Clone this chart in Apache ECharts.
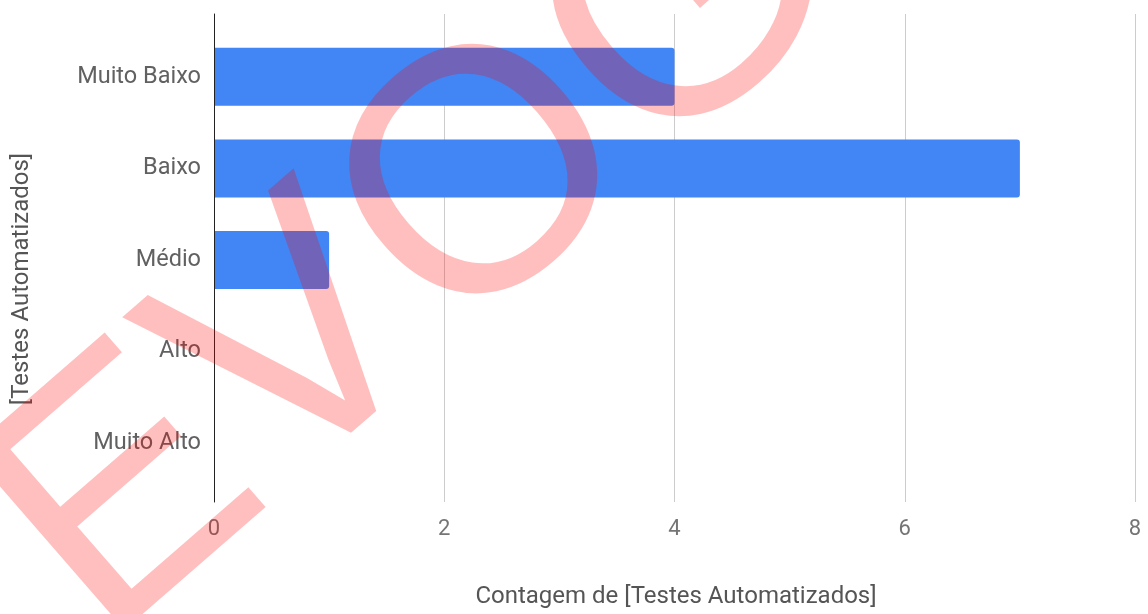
<!DOCTYPE html>
<html>
<head>
<meta charset="utf-8">
<script src="https://cdn.jsdelivr.net/npm/echarts@6/dist/echarts.min.js"></script>
<style>
  html, body { margin: 0; padding: 0; background: #fff; }
  #chart { width: 1148px; height: 614px; }
</style>
</head>
<body>
<div id="chart"></div>
<script>
var categories = ['Muito Baixo', 'Baixo', 'Médio', 'Alto', 'Muito Alto'];
var counts = [4, 7, 1, 0, 0];
var xTicks = [0, 2, 4, 6, 8];
var xTitle = 'Contagem de [Testes Automatizados]';
var yTitle = '[Testes Automatizados]';
var stamp = 'REVOGADO';

var myChart = echarts.init(document.getElementById('chart'));

var option = {
    animation: false,
    textStyle: { fontFamily: 'Roboto' },
    grid: [
        // bars
        { left: 214, right: 13, top: 31, height: 458 },
        // frame: gridlines, axis line, tick labels
        { left: 214, right: 13, top: 14, bottom: 112 }
    ],
    xAxis: [
        {
            gridIndex: 0, type: 'value', min: 0, max: 8, interval: 2,
            show: false
        },
        {
            gridIndex: 1, type: 'value', min: xTicks[0], max: xTicks[xTicks.length - 1], interval: 2,
            axisLine: { show: false },
            axisTick: { show: false },
            splitLine: { show: true, lineStyle: { color: '#cccccc', width: 1 } },
            axisLabel: { color: '#757575', fontSize: 22, margin: 16 }
        }
    ],
    yAxis: [
        {
            gridIndex: 0, type: 'category', inverse: true, data: categories,
            axisLine: { show: false },
            axisTick: { show: false },
            splitLine: { show: false },
            axisLabel: { color: '#616161', fontSize: 23.5, margin: 13 }
        },
        {
            gridIndex: 1, type: 'value', min: 0, max: 1, z: 10,
            axisLine: { show: true, onZero: false, lineStyle: { color: '#222', width: 1 } },
            axisTick: { show: false },
            axisLabel: { show: false },
            splitLine: { show: false }
        }
    ],
    series: [
        {
            type: 'bar',
            xAxisIndex: 0,
            yAxisIndex: 0,
            data: counts,
            barWidth: 58,
            itemStyle: { color: '#4285f4', borderRadius: [0, 3, 3, 0] }
        }
    ],
    graphic: [
        {
            type: 'text', x: 676, y: 597, z: 5,
            style: {
                text: xTitle, fill: '#555', font: '24px Roboto',
                textAlign: 'center', textVerticalAlign: 'middle'
            }
        },
        {
            type: 'text', x: 22, y: 279, rotation: Math.PI / 2, z: 5,
            style: {
                text: yTitle, fill: '#555', font: '24px Roboto',
                textAlign: 'center', textVerticalAlign: 'middle'
            }
        },
        {
            // red "REVOGADO" stamp over the chart
            type: 'text', x: 605, y: 86, rotation: 41 * Math.PI / 180, z: 100,
            style: {
                text: stamp, fill: 'rgba(255,0,0,0.25)', font: '345px "Liberation Sans"',
                textAlign: 'center', textVerticalAlign: 'middle'
            }
        }
    ]
};

myChart.setOption(option);
</script>
</body>
</html>
